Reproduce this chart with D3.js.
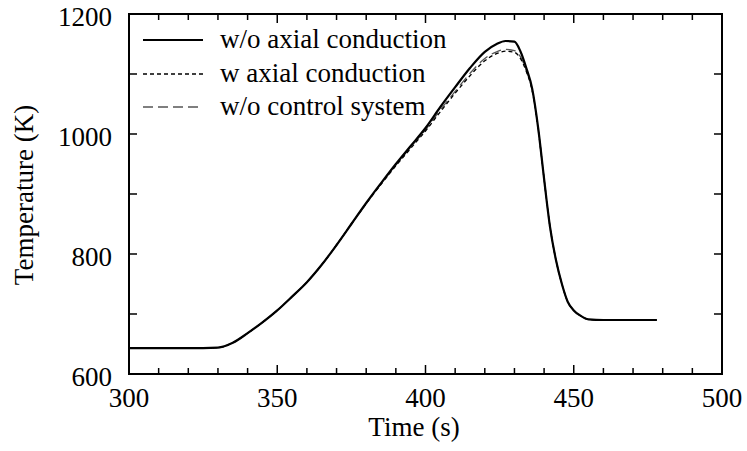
<!DOCTYPE html>
<html>
<head>
<meta charset="utf-8">
<script src="https://cdn.jsdelivr.net/npm/d3@7"></script>
<style>
  body { margin: 0; background: #fff; }
</style>
</head>
<body>
<svg id="chart" width="747" height="451"></svg>
<script>
// Data
const timeNoAxial = [300, 320, 330, 335, 340, 345, 350, 355, 360, 365, 370, 375, 380, 385, 390, 395, 400, 405, 410, 415, 420, 424, 427, 430, 432, 434, 436, 438, 440, 442, 444, 446, 448, 450, 452, 455, 460, 470, 478];
const tempNoAxial = [643, 643, 644, 652, 668, 686, 706, 729, 753, 782, 815, 850, 885, 918, 950, 980, 1010, 1045, 1078, 1110, 1137, 1150, 1155, 1154, 1138, 1110, 1075, 1010, 925, 845, 790, 750, 720, 706, 698, 691, 690, 690, 690];

const timeAxial = [300, 320, 330, 335, 340, 345, 350, 355, 360, 365, 370, 375, 380, 385, 390, 395, 400, 405, 410, 415, 420, 424, 427, 430, 432, 434, 436, 438, 440, 442, 444, 446, 448, 450, 452, 455, 460, 470, 478];
const tempAxial = [643, 643, 644, 652, 668, 686, 706, 729, 753, 782, 815, 850, 884, 916, 947, 976, 1005, 1037, 1068, 1097, 1122, 1134, 1138, 1136, 1126, 1104, 1072, 1008, 925, 845, 790, 750, 720, 706, 698, 691, 690, 690, 690];

const timeNoControl = [300, 320, 330, 335, 340, 345, 350, 355, 360, 365, 370, 375, 380, 385, 390, 395, 400, 405, 410, 415, 420, 424, 427, 430, 432, 434, 436, 438, 440, 442, 444, 446, 448, 450, 452, 455, 460, 470, 478];
const tempNoControl = [643, 643, 644, 652, 668, 686, 706, 729, 753, 782, 815, 850, 884, 917, 948, 978, 1007, 1040, 1071, 1101, 1126, 1137, 1141, 1139, 1129, 1106, 1073, 1009, 925, 845, 790, 750, 720, 706, 698, 691, 690, 690, 690];

const legendLabels = ["w/o axial conduction", "w axial conduction", "w/o control system"];
const xTicks = [300, 350, 400, 450, 500];
const yTicks = [600, 800, 1000, 1200];

const serif = "'Liberation Serif', 'Times New Roman', Times, serif";

const svg = d3.select("#chart");
const plotLeft = 129, plotRight = 722, plotTop = 14, plotBottom = 374;

const x = d3.scaleLinear().domain([300, 500]).range([plotLeft, plotRight]);
const y = d3.scaleLinear().domain([600, 1200]).range([plotBottom, plotTop]);

// Frame
svg.append("rect")
    .attr("x", plotLeft).attr("y", plotTop)
    .attr("width", plotRight - plotLeft).attr("height", plotBottom - plotTop)
    .attr("fill", "none").attr("stroke", "#000").attr("stroke-width", 2);

// Inward ticks on all four sides
const xMinor = d3.range(300, 501, 10);
const yMinor = d3.range(600, 1201, 100);

svg.append("g").selectAll("line").data(xMinor).join("line")
    .attr("x1", d => x(d)).attr("x2", d => x(d))
    .attr("y1", plotBottom).attr("y2", d => plotBottom - (d % 50 === 0 ? 9 : 6))
    .attr("stroke", "#000").attr("stroke-width", 1.5);
svg.append("g").selectAll("line").data(xMinor).join("line")
    .attr("x1", d => x(d)).attr("x2", d => x(d))
    .attr("y1", plotTop).attr("y2", d => plotTop + (d % 50 === 0 ? 9 : 6))
    .attr("stroke", "#000").attr("stroke-width", 1.5);
svg.append("g").selectAll("line").data(yMinor).join("line")
    .attr("x1", plotLeft).attr("x2", plotLeft + 8)
    .attr("y1", d => y(d)).attr("y2", d => y(d))
    .attr("stroke", "#000").attr("stroke-width", 1.5);
svg.append("g").selectAll("line").data(yMinor).join("line")
    .attr("x1", plotRight).attr("x2", plotRight - 8)
    .attr("y1", d => y(d)).attr("y2", d => y(d))
    .attr("stroke", "#000").attr("stroke-width", 1.5);

// Tick labels
svg.append("g").selectAll("text").data(xTicks).join("text")
    .attr("x", d => x(d)).attr("y", 407)
    .attr("text-anchor", "middle")
    .attr("font-family", serif)
    .attr("font-size", 27)
    .text(d => d);
svg.append("g").selectAll("text").data(yTicks).join("text")
    .attr("x", 112).attr("y", d => y(d) + 12)
    .attr("text-anchor", "end")
    .attr("font-family", serif)
    .attr("font-size", 27)
    .text(d => d);

// Axis titles
svg.append("text")
    .attr("x", 414).attr("y", 436)
    .attr("text-anchor", "middle")
    .attr("font-family", serif)
    .attr("font-size", 27)
    .text("Time (s)");
svg.append("text")
    .attr("transform", "translate(33,195) rotate(-90)")
    .attr("text-anchor", "middle")
    .attr("font-family", serif)
    .attr("font-size", 27)
    .text("Temperature (K)");

// Curves
const line = d3.line()
    .x(d => x(d[0]))
    .y(d => y(d[1]))
    .curve(d3.curveMonotoneX);

const series = [
    { pts: d3.zip(timeNoControl, tempNoControl), color: "#555", width: 1.3, dash: "10,5" },
    { pts: d3.zip(timeAxial, tempAxial), color: "#000", width: 1.3, dash: "4,3" },
    { pts: d3.zip(timeNoAxial, tempNoAxial), color: "#000", width: 2.2, dash: null }
];

svg.append("g").selectAll("path").data(series).join("path")
    .attr("d", d => line(d.pts))
    .attr("fill", "none")
    .attr("stroke", d => d.color)
    .attr("stroke-width", d => d.width)
    .attr("stroke-dasharray", d => d.dash);

// Legend
const legendStyles = [
    { color: "#000", width: 2.2, dash: null },
    { color: "#000", width: 1.3, dash: "4,3" },
    { color: "#555", width: 1.3, dash: "10,5" }
];
const legendY = [40, 74, 107];

const legend = svg.append("g");
legendLabels.forEach((label, i) => {
    legend.append("line")
        .attr("x1", 143).attr("x2", 203)
        .attr("y1", legendY[i]).attr("y2", legendY[i])
        .attr("stroke", legendStyles[i].color)
        .attr("stroke-width", legendStyles[i].width)
        .attr("stroke-dasharray", legendStyles[i].dash);
    legend.append("text")
        .attr("x", 220).attr("y", legendY[i] + 8)
        .attr("font-family", serif)
        .attr("font-size", 27)
        .text(label);
});
</script>
</body>
</html>
